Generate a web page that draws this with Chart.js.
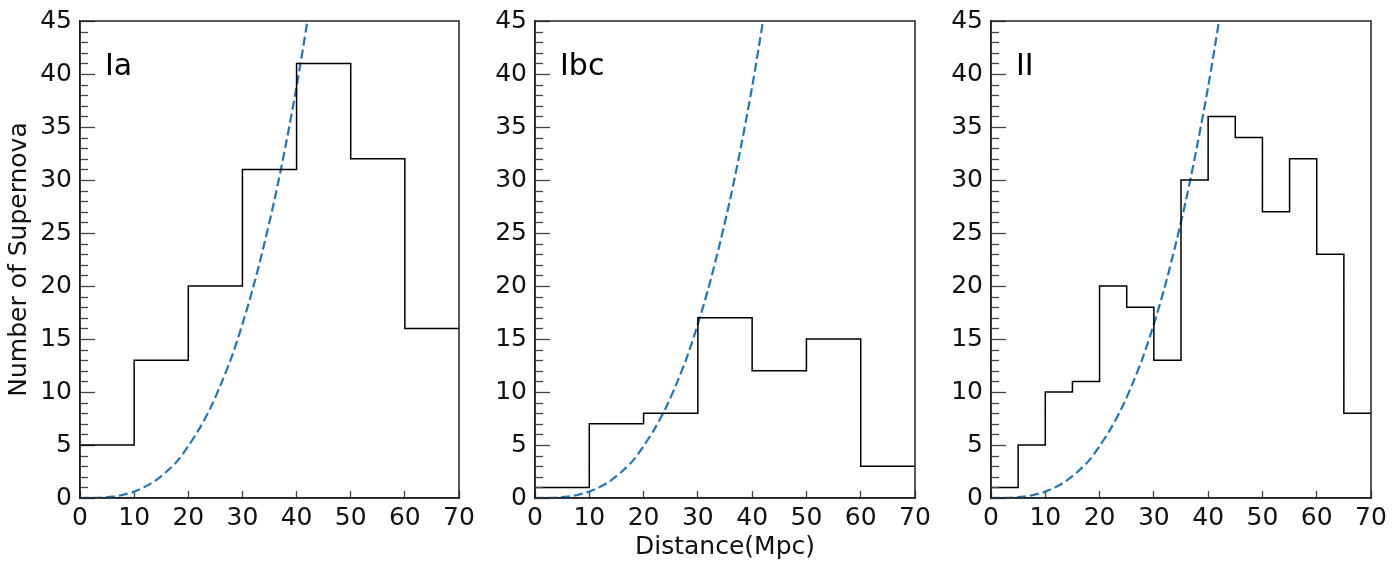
<!DOCTYPE html>
<html>
<head>
<meta charset="utf-8">
<script src="https://cdn.jsdelivr.net/npm/chart.js@4.4.0/dist/chart.umd.min.js"></script>
<style>
  html, body { margin: 0; padding: 0; background: #fff; }
  body { width: 1397px; height: 562px; position: relative; overflow: hidden; }
  .pane { position: absolute; top: 0; height: 562px; }
</style>
</head>
<body>
<div class="pane" id="p0"><canvas id="c0"></canvas></div>
<div class="pane" id="p1"><canvas id="c1"></canvas></div>
<div class="pane" id="p2"><canvas id="c2"></canvas></div>
<script>
// ---- data ----
const panelNames = ['Ia', 'Ibc', 'II'];
const xTickValues = [0, 10, 20, 30, 40, 50, 60, 70];
const yTickValues = [0, 5, 10, 15, 20, 25, 30, 35, 40, 45];

// bin edges and counts (histogram steps)
const edgesIa  = [0, 10, 20, 30, 40, 50, 60, 70];
const countsIa = [5, 13, 20, 31, 41, 32, 16];
const edgesIbc  = [0, 10, 20, 30, 40, 50, 60, 70];
const countsIbc = [1, 7, 8, 17, 12, 15, 3];
const edgesII  = [0, 5, 10, 15, 20, 25, 30, 35, 40, 45, 50, 55, 60, 65, 70];
const countsII = [1, 5, 10, 11, 20, 18, 13, 30, 36, 34, 27, 32, 23, 8];

// dashed expected curve
const curveX = [0, 2, 4, 6, 8, 10, 12, 14, 16, 18, 20, 22, 24, 26, 28, 30, 32, 34, 36, 38, 40, 42, 44];
const curveY = [0, 0.01, 0.04, 0.13, 0.31, 0.6, 1.05, 1.67, 2.5, 3.5, 4.9, 6.5, 8.4, 10.7, 13.3, 16.4, 19.9, 23.9, 28.3, 33.3, 38.8, 45, 51.7];

// ---- layout ----
const plotLeft  = [80, 535, 991];
const plotRight = [459, 915, 1371];
const plotTop = 21, plotBottom = 498, H = 562;
const AXW = 80, RPAD = 20;

const FONT = "'DejaVu Sans', sans-serif";

function stepPoints(edges, counts) {
  const pts = counts.map((c, i) => ({ x: edges[i], y: c }));
  pts.push({ x: edges[edges.length - 1], y: counts[counts.length - 1] });
  return pts;
}

const framePlugin = {
  id: 'frame',
  afterDraw(chart, args, opts) {
    const { ctx, chartArea: a, scales } = chart;
    ctx.save();
    // minor ticks on y
    ctx.strokeStyle = '#444';
    ctx.lineWidth = 1.3;
    const ys = scales.y;
    for (let v = 0; v <= 45; v++) {
      if (v % 5 === 0) continue;
      const py = Math.round(ys.getPixelForValue(v)) + 0.5;
      ctx.beginPath();
      ctx.moveTo(a.left, py);
      ctx.lineTo(a.left + 8, py);
      ctx.stroke();
    }
    // frame
    ctx.strokeStyle = '#222';
    ctx.lineWidth = 1.5;
    ctx.strokeRect(a.left, a.top, a.right - a.left, a.bottom - a.top);
    // panel label
    ctx.fillStyle = '#000';
    ctx.font = "30px " + FONT;
    ctx.textBaseline = 'alphabetic';
    ctx.textAlign = 'left';
    ctx.fillText(opts.label, a.left + 25, 75);
    ctx.restore();
  }
};

const histData = [
  stepPoints(edgesIa, countsIa),
  stepPoints(edgesIbc, countsIbc),
  stepPoints(edgesII, countsII)
];
const curvePts = curveX.map((x, i) => ({ x: x, y: curveY[i] }));

for (let i = 0; i < 3; i++) {
  const pane = document.getElementById('p' + i);
  const w = AXW + (plotRight[i] - plotLeft[i]) + RPAD;
  pane.style.left = (plotLeft[i] - AXW) + 'px';
  pane.style.width = w + 'px';

  new Chart(document.getElementById('c' + i), {
    type: 'line',
    data: {
      datasets: [
        {
          data: curvePts,
          borderColor: '#1f77b4',
          borderWidth: 2.2,
          borderDash: [9, 4],
          pointRadius: 0,
          tension: 0.3,
          fill: false,
          order: 1
        },
        {
          data: histData[i],
          borderColor: '#000',
          borderWidth: 1.5,
          stepped: true,
          pointRadius: 0,
          fill: false,
          order: 0
        }
      ]
    },
    options: {
      responsive: true,
      maintainAspectRatio: false,
      animation: false,
      events: [],
      layout: { padding: { top: plotTop, right: RPAD, left: 0, bottom: 0 } },
      plugins: {
        legend: { display: false },
        tooltip: { enabled: false },
        frame: { label: panelNames[i] }
      },
      scales: {
        x: {
          type: 'linear',
          min: 0, max: 70,
          afterBuildTicks(s) { s.ticks = xTickValues.map(v => ({ value: v })); },
          afterFit(s) { s.height = H - plotBottom; s.paddingLeft = 0; s.paddingRight = 0; },
          grid: { drawOnChartArea: false, drawTicks: true, tickLength: -7, tickColor: '#444', tickWidth: 1.3 },
          border: { display: true, color: '#222', width: 1.5 },
          ticks: { color: '#111', font: { family: FONT, size: 25 }, padding: 12, maxRotation: 0, autoSkip: false },
          title: {
            display: i === 1,
            text: 'Distance(Mpc)',
            color: '#111',
            font: { family: FONT, size: 25 },
            padding: { top: 0, bottom: 0 }
          }
        },
        y: {
          type: 'linear',
          min: 0, max: 45,
          afterBuildTicks(s) { s.ticks = yTickValues.map(v => ({ value: v })); },
          afterFit(s) { s.width = AXW; s.paddingTop = 0; s.paddingBottom = 0; },
          grid: { drawOnChartArea: false, drawTicks: true, tickLength: -15, tickColor: '#444', tickWidth: 1.3 },
          border: { display: true, color: '#222', width: 1.5 },
          ticks: { color: '#111', font: { family: FONT, size: 25 }, padding: 23, autoSkip: false },
          title: {
            display: i === 0,
            text: 'Number of Supernova',
            color: '#111',
            font: { family: FONT, size: 25 },
            padding: { top: 4, bottom: 0 }
          }
        }
      }
    },
    plugins: [framePlugin]
  });
}
</script>
</body>
</html>
